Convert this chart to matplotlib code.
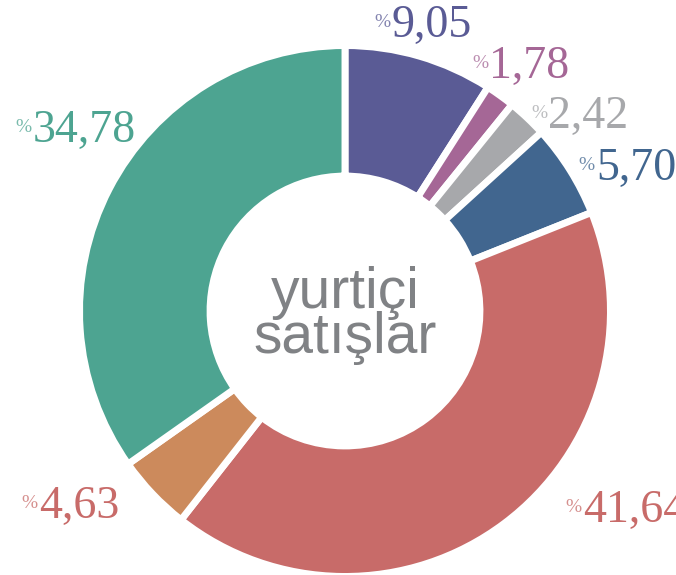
import matplotlib
matplotlib.use("Agg")
import matplotlib.pyplot as plt

# slice shares, clockwise from 12 o'clock
labels = ["9,05", "1,78", "2,42", "5,70", "41,64", "4,63", "34,78"]
shares = [9.05, 1.78, 2.42, 5.70, 41.64, 4.63, 34.78]
colors = ["#5a5b95", "#a56796", "#a7a8ab", "#41668f",
          "#c86b69", "#cc8a5c", "#4da491"]
label_colors = ["#5a5b95", "#a56796", "#a7a8ab", "#41668f",
                "#c86b69", "#c86b69", "#4da491"]
center_lines = ["yurtiçi", "satışlar"]

W, H = 676, 575
CX, CY, R = 345, 311, 262          # pixel centre / outer radius
# label anchors (boundary between "%" and number, baseline), in radius units
label_pos = [(0.176, 1.046), (0.550, 0.889), (0.775, 0.698), (0.958, 0.500),
             (0.908, -0.805), (-1.168, -0.790), (-1.191, 0.645)]

fig = plt.figure(figsize=(W / 100, H / 100), dpi=100)
ax = fig.add_axes([0, 0, 1, 1])

lw = 5
ax.pie(shares, colors=colors, startangle=90, counterclock=False,
       radius=1 + (lw / 2) * (100 / 72) / R,
       wedgeprops=dict(width=0.485 + (lw / 2) * (100 / 72) / R,
                       edgecolor="white", linewidth=lw))

ax.set_xlim(-CX / R, (W - CX) / R)
ax.set_ylim(-(H - CY) / R, CY / R)
ax.set_aspect("auto")
ax.axis("off")

pct_dy = 10 / R
for lab, (x, y), c in zip(labels, label_pos, label_colors):
    ax.text(x, y, lab, ha="left", va="baseline", color=c,
            fontsize=33, family="Liberation Serif")
    ax.text(x - 1 / R, y + pct_dy, "%", ha="right", va="baseline",
            color=c, alpha=0.75, fontsize=14, family="Liberation Serif")

ax.text(0, (CY - 308) / R, center_lines[0], ha="center", va="baseline",
        color="#808285", fontsize=41, family="Liberation Sans")
ax.text(0, (CY - 353) / R, center_lines[1], ha="center", va="baseline",
        color="#808285", fontsize=41, family="Liberation Sans")

fig.savefig("out.png", dpi=100, facecolor="white")
